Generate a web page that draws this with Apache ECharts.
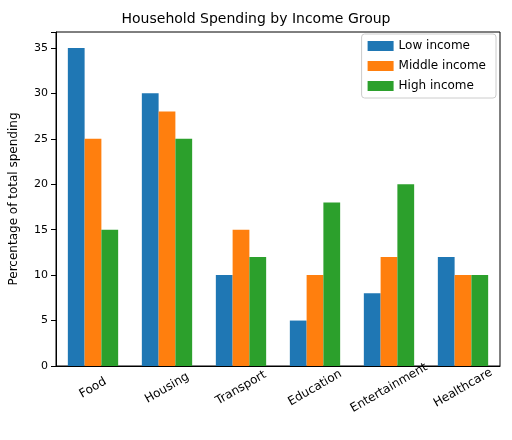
<!DOCTYPE html>
<html><head><meta charset="utf-8">
<script src="https://cdn.jsdelivr.net/npm/echarts@6/dist/echarts.min.js"></script>
<style>html,body{margin:0;padding:0;background:#fff}#chart{width:512px;height:440px}</style>
</head><body><div id="chart"></div>
<script>
var categories = ['Food', 'Housing', 'Transport', 'Education', 'Entertainment', 'Healthcare'];
var lowIncome = [35, 30, 10, 5, 8, 12];
var middleIncome = [25, 28, 15, 10, 12, 10];
var highIncome = [15, 25, 12, 18, 20, 10];
var yTicks = [0, 5, 10, 15, 20, 25, 30, 35];

var myChart = echarts.init(document.getElementById('chart'));
var font = 'DejaVu Sans';
function bar(name, data, color) {
    return {name: name, type: 'bar', data: data, barGap: '0%', barCategoryGap: '32%',
        itemStyle: {color: color}};
}
myChart.setOption({
    animation: false,
    textStyle: {fontFamily: font},
    title: {text: 'Household Spending by Income Group', left: 'center', top: 7,
        textStyle: {fontFamily: font, fontSize: 14, fontWeight: 'normal', color: '#000'}},
    legend: {orient: 'vertical', right: 16, top: 34, itemWidth: 26, itemHeight: 10, itemGap: 8,
        icon: 'rect', backgroundColor: '#fff', borderColor: '#ccc', borderWidth: 1, borderRadius: 3,
        padding: [6, 10, 6, 6],
        textStyle: {fontFamily: font, fontSize: 12, color: '#000'},
        data: ['Low income', 'Middle income', 'High income']},
    grid: {left: 55, right: 12, top: 32, bottom: 74, show: true, borderColor: '#000', borderWidth: 1},
    xAxis: {type: 'category', data: categories,
        axisLine: {lineStyle: {color: '#000'}},
        axisTick: {alignWithLabel: true, lineStyle: {color: '#000'}},
        axisLabel: {rotate: 30, align: 'center', verticalAlign: 'middle', color: '#000', fontSize: 12,
            fontFamily: font, margin: 22, interval: 0}},
    yAxis: {type: 'value', min: 0, max: 36.75, interval: 5,
        name: 'Percentage of total spending', nameLocation: 'middle', nameGap: 36,
        nameTextStyle: {fontFamily: font, fontSize: 12, color: '#000'},
        axisLine: {show: true, lineStyle: {color: '#000'}},
        axisTick: {show: true, lineStyle: {color: '#000'}},
        splitLine: {show: false},
        axisLabel: {color: '#000', fontSize: 11, fontFamily: font,
            formatter: function (v) { return yTicks.indexOf(v) >= 0 ? v : ''; }}},
    series: [
        bar('Low income', lowIncome, '#1f77b4'),
        bar('Middle income', middleIncome, '#ff7f0e'),
        bar('High income', highIncome, '#2ca02c')
    ]
});
</script></body></html>
